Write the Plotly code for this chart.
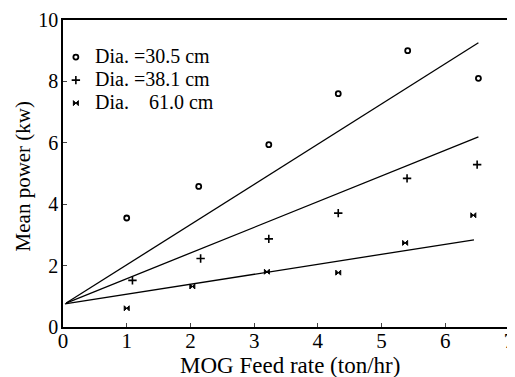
import plotly.graph_objects as go

feed_30 = [1.0, 2.13, 3.23, 4.32, 5.41, 6.52]
power_30 = [3.55, 4.58, 5.94, 7.6, 9.0, 8.1]
feed_38 = [1.09, 2.16, 3.23, 4.32, 5.4, 6.5]
power_38 = [1.52, 2.23, 2.87, 3.71, 4.84, 5.29]
feed_61 = [1.0, 2.03, 3.2, 4.32, 5.37, 6.44]
power_61 = [0.61, 1.32, 1.8, 1.77, 2.74, 3.64]

fit_x_30 = [0.05, 6.52]
fit_y_30 = [0.78, 9.26]
fit_x_38 = [0.05, 6.52]
fit_y_38 = [0.78, 6.19]
fit_x_61 = [0.03, 6.45]
fit_y_61 = [0.75, 2.84]

legend_labels = ["Dia. =30.5 cm", "Dia. =38.1 cm", "Dia.    61.0 cm"]
x_ticks = [0, 1, 2, 3, 4, 5, 6, 7]
y_ticks = [0, 2, 4, 6, 8, 10]
x_title = "MOG Feed rate (ton/hr)"
y_title = "Mean power (kw)"

FONT = "Liberation Serif"
fig = go.Figure()

for fx, fy in [(fit_x_30, fit_y_30), (fit_x_38, fit_y_38), (fit_x_61, fit_y_61)]:
    fig.add_trace(go.Scatter(x=fx, y=fy, mode="lines",
                             line=dict(color="black", width=1.3), showlegend=False))

marker_styles = [
    dict(symbol="circle-open", size=5, color="black", line=dict(width=1.8, color="black")),
    dict(symbol="cross-thin-open", size=6, color="black", line=dict(width=1.6, color="black")),
    dict(symbol="bowtie", size=5, color="black", line=dict(width=1, color="black")),
]
for (fx, fy), ms in zip([(feed_30, power_30), (feed_38, power_38), (feed_61, power_61)],
                        marker_styles):
    fig.add_trace(go.Scatter(x=fx, y=fy, mode="markers", marker=ms, name=" "))

# legend text placed next to the legend keys
row_y = [0.883, 0.808, 0.733]
for lab, yy in zip(legend_labels, row_y):
    fig.add_annotation(text=lab, xref="paper", yref="paper", x=0.067, y=yy,
                       xanchor="left", yanchor="middle", showarrow=False,
                       font=dict(family=FONT, size=20, color="black"))

fig.add_annotation(text=x_title, xref="paper", yref="paper", x=0.51, y=-0.124,
                   xanchor="center", yanchor="middle", showarrow=False,
                   font=dict(family=FONT, size=23, color="black"))
fig.add_annotation(text=y_title, xref="paper", yref="paper", x=-0.09, y=0.49,
                   xanchor="center", yanchor="middle", showarrow=False, textangle=-90,
                   font=dict(family=FONT, size=21, color="black"))

fig.update_layout(
    width=507, height=369,
    margin=dict(l=55, r=6, t=12, b=50, autoexpand=False),
    paper_bgcolor="white", plot_bgcolor="white",
    font=dict(family=FONT, color="black", size=20),
    showlegend=True,
    legend=dict(x=-0.016, y=0.933, xanchor="left", yanchor="top",
                bgcolor="rgba(0,0,0,0)", font=dict(family=FONT, size=15.4),
                itemwidth=30, tracegroupgap=0),
    xaxis=dict(range=[0, 7], tickvals=x_ticks, ticks="inside", ticklen=4,
               showline=True, linecolor="black", linewidth=1.5, mirror=True,
               showgrid=False, zeroline=False, automargin=False,
               ticklabelstandoff=-6, ticklabeloverflow="allow",
               tickfont=dict(family=FONT, size=21)),
    yaxis=dict(range=[0, 10], tickvals=y_ticks, ticks="inside", ticklen=4,
               showline=True, linecolor="black", linewidth=1.5, mirror=True,
               showgrid=False, zeroline=False, automargin=False,
               ticklabelstandoff=-1, ticklabeloverflow="allow",
               tickfont=dict(family=FONT, size=20)),
)

fig.write_html("out.html")
